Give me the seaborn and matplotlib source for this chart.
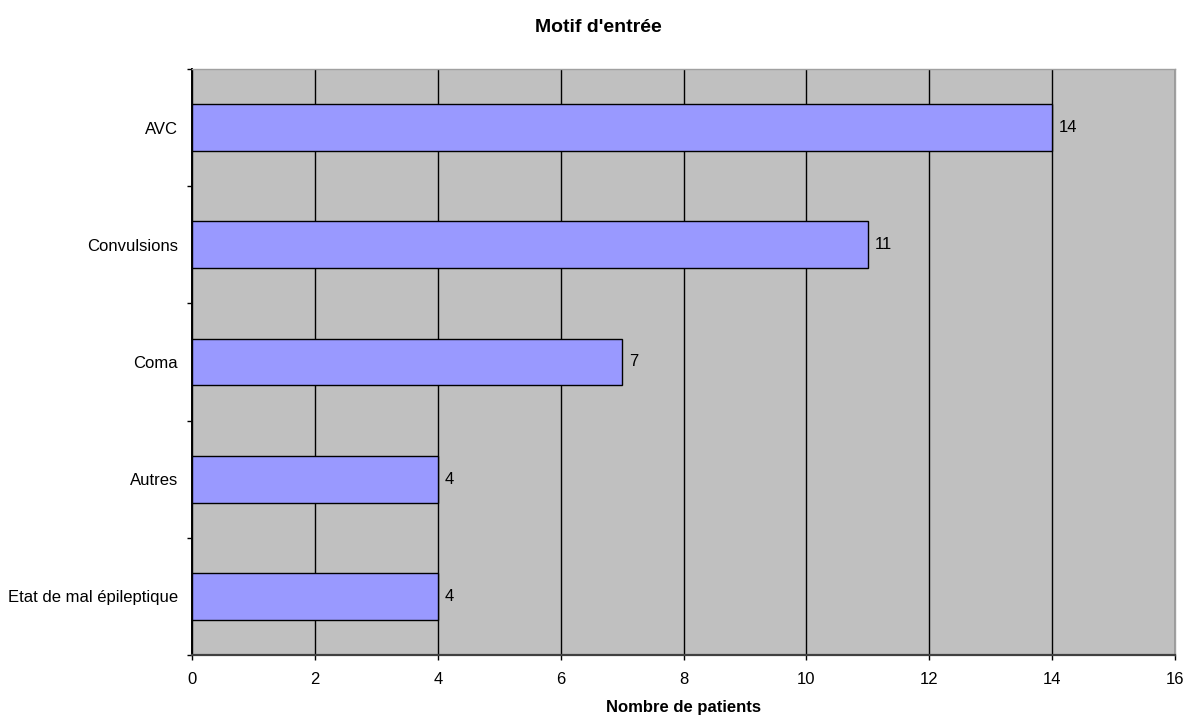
import matplotlib
matplotlib.use("Agg")
import matplotlib.pyplot as plt
import seaborn as sns
import pandas as pd
import numpy as np

categories = ["AVC", "Convulsions", "Coma", "Autres", "Etat de mal épileptique"]
values = [14, 11, 7, 4, 4]
xticks = [0, 2, 4, 6, 8, 10, 12, 14, 16]

sns.set_style("white")
plt.rcParams['font.family'] = ['Liberation Sans', 'DejaVu Sans']
plt.rcParams['text.color'] = 'black'
plt.rcParams['xtick.color'] = 'black'
plt.rcParams['ytick.color'] = 'black'
plt.rcParams['axes.labelcolor'] = 'black'

df = pd.DataFrame({"cat": categories, "val": values})

fig = plt.figure(figsize=(11.87, 7.16), dpi=100)
ax = fig.add_axes([192/1187, 1-655/716, (1175-192)/1187, (655-69)/716])
ax.set_facecolor("#C0C0C0")
ax.set_axisbelow(True)

sns.barplot(data=df, x="val", y="cat", orient="h", color="#9999FF",
            saturation=1, edgecolor="black", linewidth=1, width=0.40, ax=ax)

ax.set_xlim(0, 16)
ax.set_ylim(len(categories) - 0.5, -0.5)
ax.set_xticks(xticks)
ax.set_xticklabels([str(t) for t in xticks], fontsize=12)
ax.xaxis.grid(True, color="black", linewidth=1)
ax.yaxis.grid(False)

ax.set_yticks(range(len(categories)))
ax.set_yticklabels(categories, fontsize=12)
ax.tick_params(axis="y", which="major", left=False, length=0, pad=10)
ax.set_yticks(np.arange(-0.5, len(categories), 1.0), minor=True)
ax.tick_params(axis="y", which="minor", left=True, length=3.6, width=1, color="black", direction="out")
ax.tick_params(axis="x", which="major", bottom=True, length=3.6, width=1, color="black", direction="out", pad=9)

for i, v in enumerate(values):
    ax.annotate(str(v), xy=(v, i), xytext=(5, 0), textcoords="offset points",
                va="center", ha="left", fontsize=12, color="black")

ax.set_xlabel("Nombre de patients", fontsize=12, fontweight="bold", labelpad=9)
ax.set_ylabel("")
fig.text(598 / 1187, 1 - 27/716, "Motif d'entrée", ha="center", va="center",
         fontsize=14, fontweight="bold")

for s in ["top", "right"]:
    ax.spines[s].set_color("#A0A0A0")
    ax.spines[s].set_linewidth(1)
ax.spines["left"].set_color("black")
ax.spines["bottom"].set_color("#404040")
ax.spines["left"].set_linewidth(1.4)
ax.spines["bottom"].set_linewidth(1.6)

fig.savefig("out.png", dpi=100, facecolor="white")
